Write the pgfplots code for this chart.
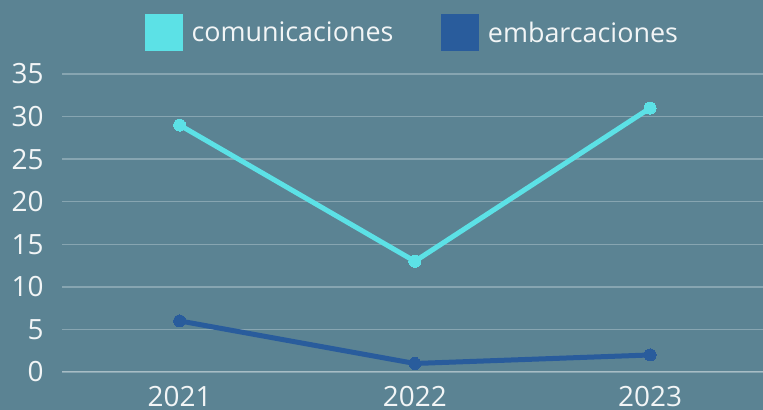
\documentclass[border=0pt]{standalone}
\usepackage{pgfplots}
\pgfplotsset{compat=1.18}
\usepackage{fontspec}
\setmainfont{Open Sans}
\definecolor{bg}{HTML}{5B8393}
\definecolor{cyanline}{HTML}{5CE1E6}
\definecolor{darkline}{HTML}{295C9C}
\definecolor{gridc}{HTML}{87A5B1}
\definecolor{zeroc}{HTML}{A8BDC5}
\definecolor{txt}{HTML}{F2F5F6}
\begin{document}
\begin{tikzpicture}
\fill[bg] (0bp,0bp) rectangle (763bp,410bp);
\path[use as bounding box] (0bp,0bp) rectangle (763bp,410bp);
\begin{axis}[
  at={(62bp,38bp)}, anchor=south west,
  scale only axis, width=701bp, height=298bp,
  xmin=-0.5, xmax=2.48, ymin=0, ymax=35,
  axis line style={draw=none},
  tick style={draw=none},
  xtick={0,1,2}, xticklabels={2021,2022,2023},
  ytick={0,5,...,35},
  ymajorgrids, grid style={color=gridc, line width=1.3bp},
  tick label style={font=\fontsize{28}{28}\selectfont, color=txt},
  /pgf/number format/assume math mode=true,
  yticklabel style={anchor=east, xshift=-15bp},
  xticklabel style={anchor=north, yshift=-11bp},
  legend style={at={(0.5,1.138)}, anchor=center, draw=none, fill=none,
    legend columns=2, font=\fontsize{27}{27}\selectfont, text=txt,
    /tikz/every even column/.append style={column sep=46bp}},
  legend cell align=left,
]
\draw[zeroc, line width=1.5bp] (axis cs:-0.5,0) -- (axis cs:2.48,0);
\addplot[cyanline, line width=5bp, mark=*, mark size=6bp,
  mark options={solid, fill=cyanline, draw=cyanline, line width=0pt},
  legend image code/.code={\fill[cyanline] (0bp,-16bp) rectangle (33bp,16bp);
    \path[draw=none] (0bp,0bp) -- (42bp,0bp);}]
  coordinates {(0,29) (1,13) (2,31)};
\addlegendentry{comunicaciones}
\addplot[darkline, line width=5bp, mark=*, mark size=6bp,
  mark options={solid, fill=darkline, draw=darkline, line width=0pt},
  legend image code/.code={\fill[darkline] (0bp,-16bp) rectangle (33bp,16bp);
    \path[draw=none] (0bp,0bp) -- (42bp,0bp);}]
  coordinates {(0,6) (1,1) (2,2)};
\addlegendentry{embarcaciones}
\end{axis}
\end{tikzpicture}
\end{document}
